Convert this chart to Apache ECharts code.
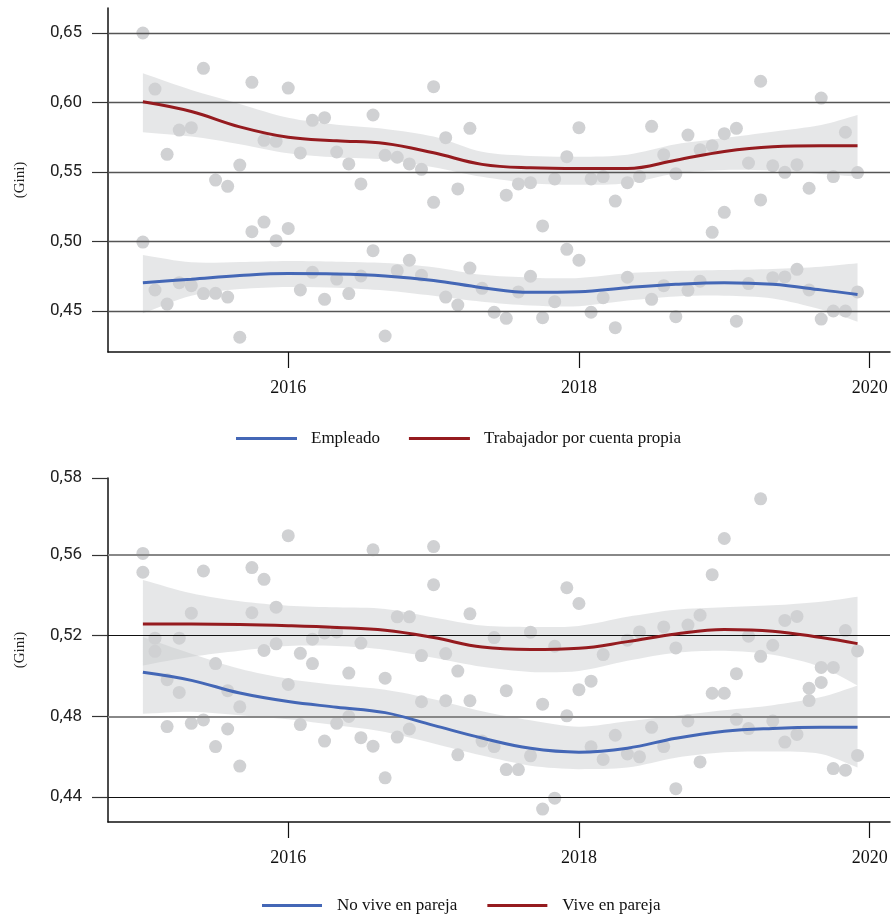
<!DOCTYPE html>
<html>
<head>
<meta charset="utf-8">
<script src="https://cdn.jsdelivr.net/npm/echarts@6/dist/echarts.min.js"></script>
<style>
html,body{margin:0;padding:0;background:#fff;}
#chart{width:895px;height:917px;}
</style>
</head>
<body>
<div id="chart"></div>
<script>
// ---- Data (monthly, Jan 2015 .. Dec 2019) ----
const START_YEAR = 2015;

// Top panel: Gini by employment type
const trabajador = [0.650,0.6097,0.5627,0.5802,0.5819,0.6246,0.5442,0.5397,0.555,0.6145,0.5728,0.5721,
  0.6104,0.5637,0.5872,0.5891,0.5644,0.5558,0.5414,0.591,0.562,0.5606,0.5558,0.5519,
  0.6114,0.5747,0.5378,0.5814,null,null,0.5333,0.5414,0.5423,0.5112,0.545,0.561,
  0.5819,0.545,0.5467,0.5291,0.5423,0.5467,0.5829,0.5625,0.5488,0.5766,0.566,0.5689,
  0.5776,0.5814,0.5565,0.6153,0.5545,0.5498,0.5553,0.5383,0.6032,0.5467,0.5786,0.5496];
const empleado = [0.4996,0.4651,0.455,0.4704,0.4682,0.4625,0.4627,0.460,0.4311,0.5071,0.514,0.5006,
  0.5094,0.4651,0.4778,0.4584,0.473,0.4625,0.4752,0.4934,0.432,0.479,0.4865,0.4757,
  0.5282,0.460,0.4543,0.4809,0.4663,0.4491,0.4447,0.4637,0.475,0.4452,0.4567,0.4944,
  0.4865,0.4491,0.4596,0.438,0.4743,null,0.4584,0.4682,0.4459,0.4649,0.4714,0.5066,
  0.521,0.4427,0.4697,0.5299,0.474,0.4745,0.48,0.4651,0.4442,0.45,0.45,0.4637];

// Bottom panel: Gini by living arrangement
const vive = [0.5607,0.5187,0.4981,0.5187,0.5311,0.552,0.5061,0.4927,0.4847,0.5537,0.5479,0.5341,
  0.5695,0.5112,0.5182,0.5213,0.5218,0.5014,0.5163,0.5625,0.4989,0.5293,0.5293,0.5101,
  0.5641,0.5111,0.5024,0.5308,null,0.519,0.4927,null,0.5217,0.486,0.5147,0.5437,
  0.5359,0.4974,0.5106,null,0.5177,0.5218,null,0.5243,0.5139,0.5252,0.5301,0.5502,
  0.5681,0.5011,0.5197,0.5878,0.5152,0.5275,0.5295,0.4939,0.5042,0.5042,0.5225,0.5124];
const noVive = [0.5514,0.5122,0.4749,0.4918,0.4765,0.4782,0.465,0.4737,0.4553,0.5313,0.5126,0.5159,
  0.4958,0.4759,0.5061,0.4677,0.4765,0.4799,0.4694,0.4652,0.4495,0.4697,0.4737,0.4872,
  0.5452,0.4877,0.4609,0.4877,0.4677,0.465,0.4536,0.4536,0.4604,0.434,0.4394,0.4802,
  0.4932,0.4649,0.4586,0.4706,0.4613,0.4599,0.4745,0.465,0.4441,0.4777,0.4574,0.4914,
  0.4914,0.4785,0.4739,0.5097,0.4777,0.4672,0.471,0.4878,0.4968,0.4541,0.4533,0.4606];

// Smoothed fits and confidence bands, read at these month indices
const fitMonths = [0,4,8,12,16,20,24,28,32,36,40,44,48,52,56,59];
const trabFit = [0.6005,0.5935,0.5825,0.575,0.5725,0.5705,0.5638,0.5555,0.553,0.5525,0.5525,0.5585,0.5648,0.5682,0.5689,0.5689];
const trabHi  = [0.621,0.609,0.599,0.589,0.584,0.581,0.5755,0.5645,0.5615,0.561,0.5625,0.570,0.5745,0.579,0.5838,0.591];
const trabLo  = [0.5786,0.5755,0.570,0.5635,0.5605,0.559,0.5535,0.5465,0.542,0.5408,0.542,0.549,0.5515,0.551,0.5486,0.5467];
const empFit  = [0.4704,0.4729,0.4755,0.4769,0.4766,0.4752,0.472,0.4668,0.4634,0.4638,0.4668,0.4692,0.4704,0.4692,0.4652,0.4618];
const empHi   = [0.4903,0.485,0.4852,0.486,0.4855,0.4845,0.4815,0.476,0.474,0.4738,0.4772,0.4788,0.4795,0.4803,0.4819,0.4843];
const empLo   = [0.4483,0.461,0.4658,0.4673,0.4668,0.4648,0.461,0.4567,0.454,0.4535,0.4575,0.4605,0.461,0.459,0.451,0.4423];
const viveFit = [0.5257,0.5257,0.5255,0.5249,0.524,0.5226,0.519,0.5143,0.5131,0.5137,0.517,0.5208,0.523,0.5222,0.519,0.516];
const viveHi  = [0.5476,0.541,0.537,0.5348,0.534,0.5332,0.529,0.525,0.5243,0.5248,0.5293,0.5328,0.534,0.535,0.5368,0.5393];
const viveLo  = [0.5052,0.5095,0.5125,0.5148,0.5148,0.513,0.509,0.5045,0.502,0.5025,0.5075,0.5115,0.5125,0.5105,0.5044,0.4953];
const noViveFit = [0.5018,0.4978,0.4915,0.4873,0.4845,0.4818,0.4755,0.4692,0.4641,0.4622,0.4642,0.4691,0.4726,0.474,0.4745,0.4745];
const noViveHi  = [0.5193,0.511,0.5035,0.4985,0.4955,0.4932,0.4885,0.4825,0.478,0.4748,0.4775,0.4803,0.483,0.4855,0.4895,0.4953];
const noViveLo  = [0.4812,0.4822,0.4805,0.4785,0.4755,0.4722,0.4665,0.4605,0.4555,0.4538,0.4546,0.4595,0.4622,0.4625,0.4613,0.4546];

// Tick labels
const xTicks = [2016, 2018, 2020];
const topYTicks = [0.45, 0.50, 0.55, 0.60, 0.65];
const topYLabels = ['0,45','0,50','0,55','0,60','0,65'];
const botYTicks = [0.44, 0.48, 0.52, 0.56, 0.5981];
const botYLabels = ['0,44','0,48','0,52','0,56','0,58'];
const legendTop = ['Empleado', 'Trabajador por cuenta propia'];
const legendBot = ['No vive en pareja', 'Vive en pareja'];

// ---- Build ----
const BLUE = '#4467b6', RED = '#951b1f', PT = '#d0d1d3', BAND = 'rgba(200,201,204,0.45)';
const toX = m => START_YEAR + m / 12;
const pts = arr => arr.map((v, i) => v == null ? null : [toX(i), v]).filter(d => d);
const fitPts = arr => arr.map((v, i) => [toX(fitMonths[i]), v]);

function bandSeries(lo, hi, idx) {
  return {
    type: 'custom', coordinateSystem: 'cartesian2d', xAxisIndex: idx, yAxisIndex: idx,
    silent: true, z: 2, clip: false, data: [[toX(fitMonths[0]), lo[0]]],
    renderItem: (params, api) => {
      const up = hi.map((v, i) => api.coord([toX(fitMonths[i]), v]));
      const dn = lo.map((v, i) => api.coord([toX(fitMonths[i]), v])).reverse();
      // repeat the corner points so the vertical end edges stay sharp
      const all = [up[0]].concat(up, [up[up.length - 1]], [dn[0]], dn, [dn[dn.length - 1]]);
      const xs = all.map(p => p[0]), ys = all.map(p => p[1]);
      const box = [[Math.min(...xs), Math.min(...ys)], [Math.max(...xs), Math.max(...ys)]];
      return { type: 'polygon', shape: { points: all, smooth: 0.3, smoothConstraint: box },
        style: { fill: BAND } };
    }
  };
}
function fitLine(name, arr, color, idx) {
  return { name, type: 'line', xAxisIndex: idx, yAxisIndex: idx, smooth: 0.4, symbol: 'none', z: 5,
    data: fitPts(arr), itemStyle: { color }, lineStyle: { color, width: 3 } };
}
function scatter(arr, idx) {
  return { type: 'scatter', xAxisIndex: idx, yAxisIndex: idx, symbolSize: 13, z: 3, silent: true,
    data: pts(arr), itemStyle: { color: PT, opacity: 1 } };
}
function gridLines(idx, lines) {
  return { type: 'line', xAxisIndex: idx, yAxisIndex: idx, data: [], z: 1, silent: true,
    markLine: { silent: true, symbol: 'none', animation: false, label: { show: false },
      data: lines.map(l => ({ yAxis: l.v, lineStyle: { color: l.c, width: l.w, type: 'solid' } })) } };
}

const xAxisBase = idx => ({
  type: 'value', gridIndex: idx, min: 2014.76, max: 2020.14,
  axisLine: { show: true, onZero: false, lineStyle: { color: '#111', width: 1.5 } },
  axisTick: { show: true, customValues: xTicks, length: 16, lineStyle: { color: '#111', width: 1.2 } },
  axisLabel: { customValues: xTicks, formatter: v => String(Math.round(v)), margin: 27,
    fontFamily: 'Liberation Serif', fontSize: 18, color: '#111' },
  splitLine: { show: false }
});
const yAxisBase = (idx, min, max, ticks, labels) => ({
  type: 'value', gridIndex: idx, min, max,
  name: '(Gini)', nameLocation: 'middle', nameGap: 80, nameRotate: 90,
  nameTextStyle: { fontFamily: 'Liberation Serif', fontSize: 15, color: '#222' },
  axisLine: { show: true, lineStyle: { color: '#111', width: 1.5 } },
  axisTick: { show: true, customValues: ticks, length: 16, lineStyle: { color: '#333', width: 1.2 } },
  axisLabel: { customValues: ticks, margin: 26, fontFamily: 'Roboto', fontSize: 17, color: '#222',
    formatter: v => { const i = ticks.findIndex(t => Math.abs(t - v) < 1e-6); return i >= 0 ? labels[i] : ''; } },
  splitLine: { show: false }
});

const option = {
  animation: false,
  backgroundColor: '#fff',
  grid: [
    { left: 108, top: 8, width: 782, height: 344 },
    { left: 108, top: 478, width: 782, height: 344 }
  ],
  xAxis: [xAxisBase(0), xAxisBase(1)],
  yAxis: [yAxisBase(0, 0.4205, 0.668, topYTicks, topYLabels), yAxisBase(1, 0.4276, 0.5981, botYTicks, botYLabels)],
  legend: [
    { data: legendTop, left: 231, top: 425, icon: 'rect', itemWidth: 61, itemHeight: 3, itemGap: 29,
      textStyle: { fontFamily: 'Liberation Serif', fontSize: 17, color: '#111', padding: [0, 0, 0, 9] } },
    { data: legendBot, left: 257, top: 892, icon: 'rect', itemWidth: 60, itemHeight: 3, itemGap: 30,
      textStyle: { fontFamily: 'Liberation Serif', fontSize: 17, color: '#111', padding: [0, 0, 0, 10] } }
  ],
  series: [
    gridLines(0, topYTicks.map(v => ({ v, c: '#555', w: 1.4 }))),
    gridLines(1, [{ v: 0.44, c: '#111', w: 1.2 }, { v: 0.48, c: '#888', w: 2 }, { v: 0.52, c: '#111', w: 1.2 }, { v: 0.56, c: '#888', w: 2 }]),
    bandSeries(trabLo, trabHi, 0),
    bandSeries(empLo, empHi, 0),
    bandSeries(viveLo, viveHi, 1),
    bandSeries(noViveLo, noViveHi, 1),
    scatter(trabajador, 0), scatter(empleado, 0),
    scatter(vive, 1), scatter(noVive, 1),
    fitLine('Empleado', empFit, BLUE, 0),
    fitLine('Trabajador por cuenta propia', trabFit, RED, 0),
    fitLine('No vive en pareja', noViveFit, BLUE, 1),
    fitLine('Vive en pareja', viveFit, RED, 1)
  ]
};
const chart = echarts.init(document.getElementById('chart'), null, { renderer: 'canvas' });
chart.setOption(option);
</script>
</body>
</html>
